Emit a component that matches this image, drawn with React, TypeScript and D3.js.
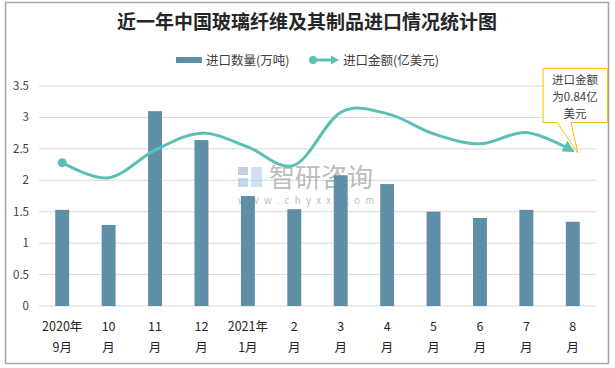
import React from "react";
import * as d3 from "d3";

const catLine1 = ["2020年", "10", "11", "12", "2021年", "2", "3", "4", "5", "6", "7", "8"];
const catLine2 = ["9月", "月", "月", "月", "1月", "月", "月", "月", "月", "月", "月", "月"];
const quantity = [1.53, 1.29, 3.1, 2.64, 1.75, 1.54, 2.08, 1.94, 1.5, 1.4, 1.53, 1.34];
const amount = [2.28, 2.04, 2.48, 2.75, 2.53, 2.24, 3.08, 3.06, 2.74, 2.58, 2.76, 2.47];
const yTicks = [0, 0.5, 1, 1.5, 2, 2.5, 3, 3.5];

const W = 615;
const H = 368;
const left = 39;
const right = 596;
const top = 86;
const bottom = 306;
const barColor = "#5f8fa7";
const lineColor = "#5cbfb4";
const font = "'Noto Sans CJK SC', 'Noto Sans', sans-serif";

export default function App() {
  const keys = catLine1.map((_, i) => String(i));
  const x = d3.scaleBand().domain(keys).range([left, right]).paddingInner(0.7).paddingOuter(0.35);
  const xc = d3.scalePoint().domain(keys).range([left, right]).padding(0.5);
  const y = d3.scaleLinear().domain([0, 3.5]).range([bottom, top]);

  const line = d3
    .line<number>()
    .x((_, i) => xc(String(i))!)
    .y((d) => y(d))
    .curve(d3.curveCardinal.tension(0));

  const p0x = xc("0")!;
  const p0y = y(amount[0]);
  const lastX = xc(String(amount.length - 1))!;
  const lastY = y(amount[amount.length - 1]);

  return (
    <svg width={W} height={H} style={{ position: "absolute", left: 0, top: 0, fontFamily: font }}>
      <defs>
        <marker id="arr" viewBox="0 0 10 10" refX="8" refY="5" markerWidth="4" markerHeight="4" orient="auto" markerUnits="strokeWidth">
          <path d="M0,0 L10,5 L0,10 z" fill={lineColor} />
        </marker>
      </defs>
      <rect x={0} y={0} width={W} height={H} fill="#fff" />
      <rect x={5.5} y={2.5} width={603} height={361} fill="#fff" stroke="#a6a6a6" strokeWidth={1.5} />

      <text x={307} y={29} textAnchor="middle" fontSize={19} fontWeight="bold" fill="#262626" style={{ fontFamily: "'Noto Sans CJK SC', serif" }}>
        近一年中国玻璃纤维及其制品进口情况统计图
      </text>

      {/* legend */}
      <rect x={176} y={57} width={26} height={6} fill={barColor} />
      <text x={206} y={64.5} fontSize={12.5} fill="#404040">进口数量(万吨)</text>
      <line x1={313} y1={60} x2={333} y2={60} stroke={lineColor} strokeWidth={3} />
      <circle cx={313} cy={60} r={4} fill={lineColor} />
      <path d="M331,55.5 L339,60 L331,64.5 z" fill={lineColor} />
      <text x={343} y={64.5} fontSize={12.5} fill="#404040">进口金额(亿美元)</text>

      {/* grid */}
      {yTicks.map((t) => (
        <g key={t}>
          <line x1={left} x2={right} y1={y(t)} y2={y(t)} stroke="#d9d9d9" strokeWidth={1} />
          <text x={29} y={y(t) + 4} textAnchor="end" fontSize={11.5} fill="#404040">
            {t}
          </text>
        </g>
      ))}

      {/* watermark */}
      <g opacity={0.65}>
        <rect x={238} y={167} width={10} height={8} fill="#9fb4d4" />
        <rect x={238} y={178} width={10} height={9} fill="#9fc7e6" />
        <rect x={251} y={167} width={11} height={20} fill="#b8d3ec" />
        <text x={269} y={187} fontSize={26} fill="#9a9a9a">智研咨询</text>
        <text x={238} y={204} fontSize={9.5} fill="#9a9a9a" letterSpacing={5.4}>www.chyxx.com</text>
      </g>

      {/* bars */}
      {quantity.map((v, i) => (
        <rect key={i} x={x(String(i))} y={y(v)} width={x.bandwidth()} height={y(0) - y(v)} fill={barColor} />
      ))}

      {/* line */}
      <path d={line(amount) ?? ""} fill="none" stroke={lineColor} strokeWidth={3} markerEnd="url(#arr)" />
      <circle cx={p0x} cy={p0y} r={4.5} fill={lineColor} />

      {/* x labels */}
      {catLine1.map((c, i) => (
        <g key={i}>
          <text x={xc(String(i))} y={331} textAnchor="middle" fontSize={12.5} fill="#262626">{c}</text>
          <text x={xc(String(i))} y={352} textAnchor="middle" fontSize={12.5} fill="#262626">{catLine2[i]}</text>
        </g>
      ))}

      {/* callout */}
      <path
        d={`M543,68.5 L607.5,68.5 L607.5,122.5 L571,122.5 L${lastX + 5},${lastY + 2} L557,122.5 L543,122.5 Z`}
        fill="#fff"
        stroke="#f5c000"
        strokeWidth={1}
      />
      <text x={575} y={84} textAnchor="middle" fontSize={11.5} fill="#404040">进口金额</text>
      <text x={575} y={101} textAnchor="middle" fontSize={11.5} fill="#404040">为0.84亿</text>
      <text x={575} y={118} textAnchor="middle" fontSize={11.5} fill="#404040">美元</text>
    </svg>
  );
}
